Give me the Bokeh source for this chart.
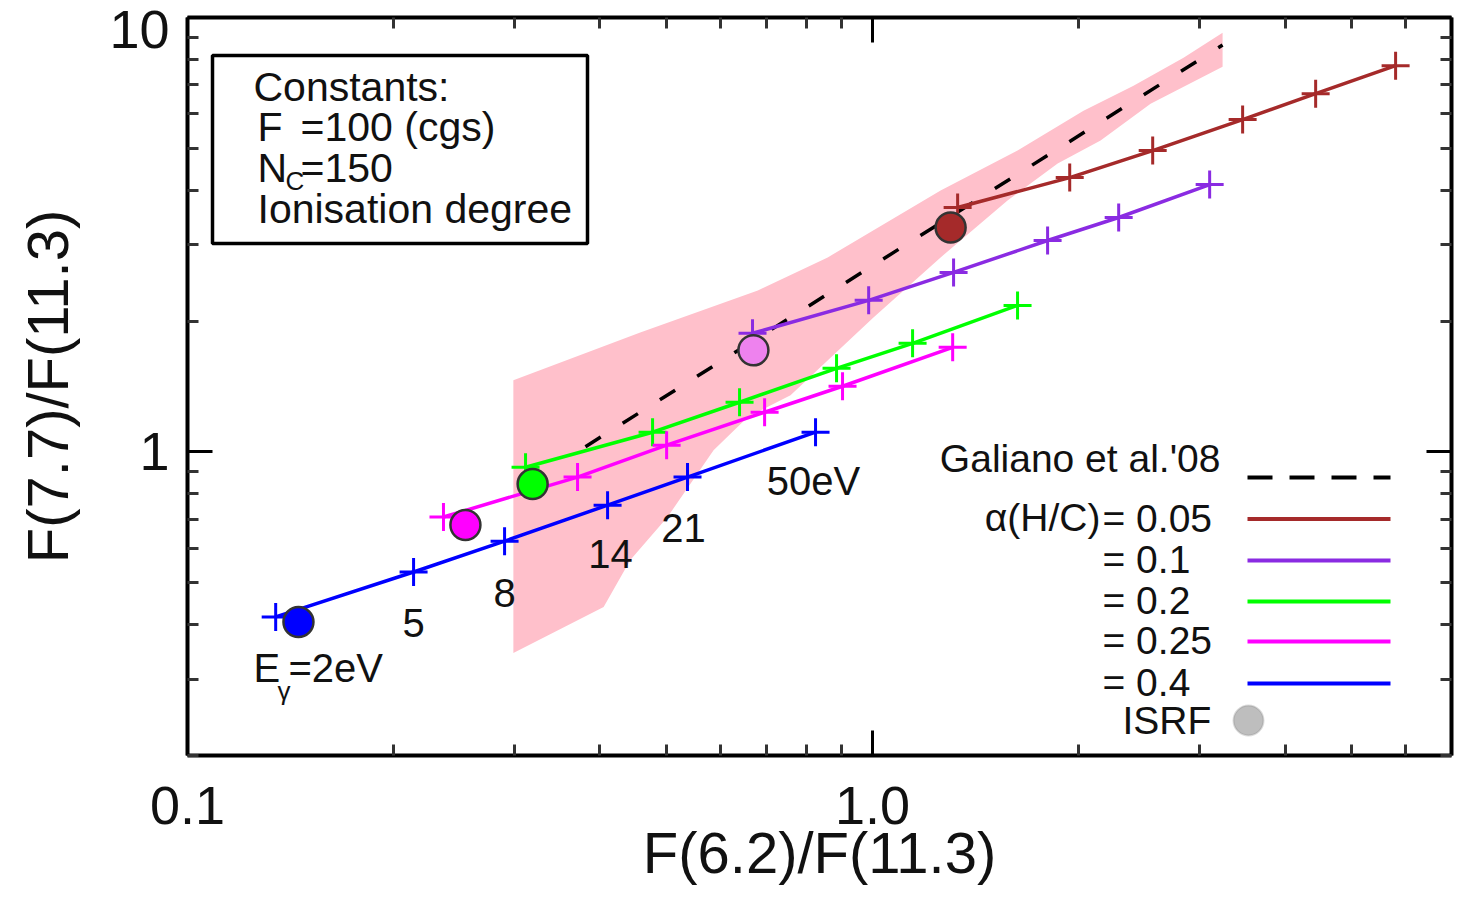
import math
from bokeh.plotting import figure
from bokeh.models import (Range1d, LogAxis, LogScale, FixedTicker, PrintfTickFormatter,
                          Label, BoxAnnotation, Arrow)
from bokeh.embed import file_html
from bokeh.resources import INLINE

# ---------------- data ----------------
# x = F(6.2)/F(11.3), y = F(7.7)/F(11.3); points at E = 2, 5, 8, 14, 21, 50 eV
x_005 = [1.331, 1.940, 2.564, 3.469, 4.434, 5.801]
y_005 = [3.652, 4.280, 4.938, 5.820, 6.677, 7.745]
x_01 = [0.668, 0.987, 1.313, 1.801, 2.287, 3.105]
y_01 = [1.875, 2.233, 2.589, 3.066, 3.464, 4.125]
x_02 = [0.3115, 0.4774, 0.6395, 0.886, 1.144, 1.628]
y_02 = [0.922, 1.110, 1.301, 1.557, 1.778, 2.174]
x_025 = [0.2364, 0.371, 0.5005, 0.6957, 0.904, 1.309]
y_025 = [0.708, 0.875, 1.036, 1.234, 1.416, 1.741]
x_04 = [0.1345, 0.2138, 0.2903, 0.4104, 0.5369, 0.8256]
y_04 = [0.417, 0.529, 0.623, 0.754, 0.875, 1.110]

# ISRF points (alpha = 0.05, 0.1, 0.2, 0.25, 0.4)
isrf_x = [1.300, 0.670, 0.319, 0.2545, 0.1452]
isrf_y = [3.286, 1.713, 0.843, 0.6785, 0.406]

# Galiano et al. '08 relation
gal_x = [0.381, 3.243]
gal_y = [1.028, 8.64]

# Galiano band
band_upper_x = [0.299, 0.458, 0.680, 0.860, 1.257, 1.628, 2.032, 2.404, 2.844, 3.243]
band_upper_y = [1.462, 1.884, 2.353, 2.803, 3.996, 4.938, 6.10, 6.966, 8.08, 9.22]
band_lower_x = [3.243, 2.546, 2.152, 1.863, 1.574, 1.257, 1.003, 0.759, 0.657, 0.586,
                0.502, 0.443, 0.405, 0.299]
band_lower_y = [7.70, 6.334, 5.209, 4.61, 3.79, 2.803, 2.04, 1.35, 1.202, 1.009,
                0.708, 0.564, 0.4395, 0.3445]

alpha_labels = ["0.05", "0.1", "0.2", "0.25", "0.4"]
energy_labels = ["5", "8", "14", "21", "50eV"]

x_major = [0.1, 1.0]
x_minor = [0.2, 0.3, 0.4, 0.5, 0.6, 0.7, 0.8, 0.9, 2, 3, 4, 5, 6, 7]
y_major = [1, 10]
y_minor = [0.2, 0.3, 0.4, 0.5, 0.6, 0.7, 0.8, 0.9, 2, 3, 4, 5, 6, 7, 8, 9]

# ---------------- styling ----------------
colors = ["#A52A2A", "#8A2BE2", "#00FF00", "#FF00FF", "#0000FF"]
isrf_colors = ["#A52A2A", "#EE82EE", "#00FF00", "#FF00FF", "#0000FF"]
FONT = "Liberation Sans"

FRAME_L, FRAME_R, FRAME_T, FRAME_B = 187, 1451, 17, 755
W, H = 1460, 901
X_LO, X_HI, Y_LO, Y_HI = 0.1, 7.0, 0.2, 10.0


def sx(px):
    return px - FRAME_L


def sy(py):
    return FRAME_B - py


p = figure(width=W, height=H, x_axis_type="log", y_axis_type="log",
           x_range=Range1d(X_LO, X_HI), y_range=Range1d(Y_LO, Y_HI),
           output_backend="svg", toolbar_location=None,
           min_border_left=FRAME_L, min_border_right=W - FRAME_R,
           min_border_top=FRAME_T, min_border_bottom=H - FRAME_B)
p.outline_line_color = None
p.grid.visible = False
p.background_fill_color = "white"
p.border_fill_color = "white"

# In the original the "10" label sits ~12 px below its tick (it is pushed inside
# the page); the y tick labels are drawn by a label-only axis whose range is
# stretched so that "1" stays on its tick and "10" lands 12 px lower.
SHIFT10 = 12.0
frame_h = FRAME_B - FRAME_T
dec = frame_h / math.log10(Y_HI / Y_LO)
y_one = FRAME_T + dec * math.log10(Y_HI / 1.0)
dec_b = (y_one - FRAME_T) - SHIFT10
lab_hi = 10 ** ((y_one - FRAME_T) / dec_b)
lab_lo = 10 ** (-(FRAME_B - y_one) / dec_b)
p.extra_y_ranges = {"labels": Range1d(lab_lo, lab_hi)}
p.extra_y_scales = {"labels": LogScale()}

bottom = p.below[0]
left = p.left[0]
top = LogAxis()
right = LogAxis()
ylab = LogAxis(y_range_name="labels")
p.add_layout(top, "above")
p.add_layout(right, "right")
p.add_layout(ylab, "left")

for ax in (bottom, top):
    ax.ticker = FixedTicker(ticks=x_major, minor_ticks=x_minor)
    ax.formatter = PrintfTickFormatter(format="%.1f")
for ax in (left, right):
    ax.ticker = FixedTicker(ticks=y_major, minor_ticks=y_minor)
    ax.formatter = PrintfTickFormatter(format="%d")
ylab.ticker = FixedTicker(ticks=y_major, minor_ticks=[])
ylab.formatter = PrintfTickFormatter(format="%d")

bottom.axis_label = "F(6.2)/F(11.3)"
ylab.axis_label = "F(7.7)/F(11.3)"

for ax in (bottom, left, top, right, ylab):
    ax.axis_line_color = "black"
    ax.axis_line_width = 4
    ax.major_tick_in = 25
    ax.major_tick_out = 0
    ax.minor_tick_in = 11
    ax.minor_tick_out = 0
    ax.major_tick_line_color = "black"
    ax.major_tick_line_width = 3
    ax.minor_tick_line_color = "#333333"
    ax.minor_tick_line_width = 3
    ax.major_label_text_font = FONT
    ax.major_label_text_font_size = "54px"
    ax.major_label_text_color = "#111111"
    ax.axis_label_text_font = FONT
    ax.axis_label_text_font_size = "58px"
    ax.axis_label_text_font_style = "normal"
    ax.axis_label_text_color = "#111111"

for ax in (top, right, left):
    ax.major_label_text_font_size = "1px"
    ax.major_label_text_alpha = 0.0
    ax.major_label_standoff = 0

ylab.axis_line_color = None
ylab.major_tick_line_color = None
ylab.minor_tick_line_color = None
ylab.major_tick_in = 0
ylab.minor_tick_in = 0
ylab.major_label_standoff = 18
ylab.axis_label_standoff = 26

bottom.major_label_standoff = 31
bottom.axis_label_standoff = -7

# band
p.patch(band_upper_x + band_lower_x, band_upper_y + band_lower_y,
        fill_color="pink", line_color=None)

# Galiano relation
p.line(gal_x, gal_y, line_color="black", line_width=3.5, line_dash="18 26")

series = [(x_005, y_005), (x_01, y_01), (x_02, y_02), (x_025, y_025), (x_04, y_04)]
for (xs, ys), c in zip(series, colors):
    p.line(xs, ys, line_color=c, line_width=3.5)
    p.scatter(xs, ys, marker="cross", size=28, line_color=c, line_width=3)

p.scatter(isrf_x, isrf_y, marker="circle", size=30, fill_color=isrf_colors,
          line_color="#333333", line_width=2.5)


def label(text, px, py, size="40px", align="left", baseline="middle", font=FONT):
    p.add_layout(Label(x=sx(px), y=sy(py), x_units="screen", y_units="screen",
                       text=text, text_font=font, text_font_size=size,
                       text_color="#111111", text_align=align,
                       text_baseline=baseline))


# Constants box
p.add_layout(BoxAnnotation(left=sx(212), right=sx(587), top=sy(55), bottom=sy(243),
                           left_units="screen", right_units="screen",
                           top_units="screen", bottom_units="screen",
                           fill_color="white", fill_alpha=1.0,
                           line_color="black", line_width=3.5, line_alpha=1.0))
label("Constants:", 253, 86, size="41px", baseline="alphabetic")
label("F", 257, 126, size="41px", baseline="alphabetic")
label("=100 (cgs)", 300, 126, size="41px", baseline="alphabetic")
label("N", 257, 167, size="41px", baseline="alphabetic")
label("C", 285, 180, size="26px", baseline="alphabetic")
label("=150", 300, 167, size="41px", baseline="alphabetic")
label("Ionisation degree", 257, 208, size="41px", baseline="alphabetic")

# energy labels along the alpha=0.4 track
label("E", 253, 667)
label("γ", 277, 690, size="26px")
label("=2eV", 288, 667)
for t, (px, py) in zip(energy_labels, [(413, 622), (504, 592), (610, 553), (683, 527), (813, 480)]):
    label(t, px, py, align="center")

# legend (labels left, samples right)
label("Galiano et al.'08", 1220, 458, size="39px", align="right")
p.add_layout(Arrow(end=None, x_start=sx(1247), y_start=sy(477), x_end=sx(1390), y_end=sy(477),
                   start_units="screen", end_units="screen",
                   line_color="black", line_width=4, line_dash="25 17"))
label("α(H/C)", 1100, 517, size="39px", align="right")
leg_y = [517.5, 559, 600, 640, 682]
for t, c, ly in zip(alpha_labels, colors, leg_y):
    label("= " + t, 1102, ly, size="39px")
    p.add_layout(Arrow(end=None, x_start=sx(1247), y_start=sy(ly + 1), x_end=sx(1390),
                       y_end=sy(ly + 1), start_units="screen", end_units="screen",
                       line_color=c, line_width=4))
label("ISRF", 1122, 720, size="39px")
p.add_layout(BoxAnnotation(left=sx(1233), right=sx(1263), top=sy(705), bottom=sy(735),
                           left_units="screen", right_units="screen",
                           top_units="screen", bottom_units="screen",
                           fill_color="#BEBEBE", fill_alpha=1.0, border_radius=15,
                           line_color="#888888", line_width=2))

open("out.html", "w").write(file_html(p, INLINE))
